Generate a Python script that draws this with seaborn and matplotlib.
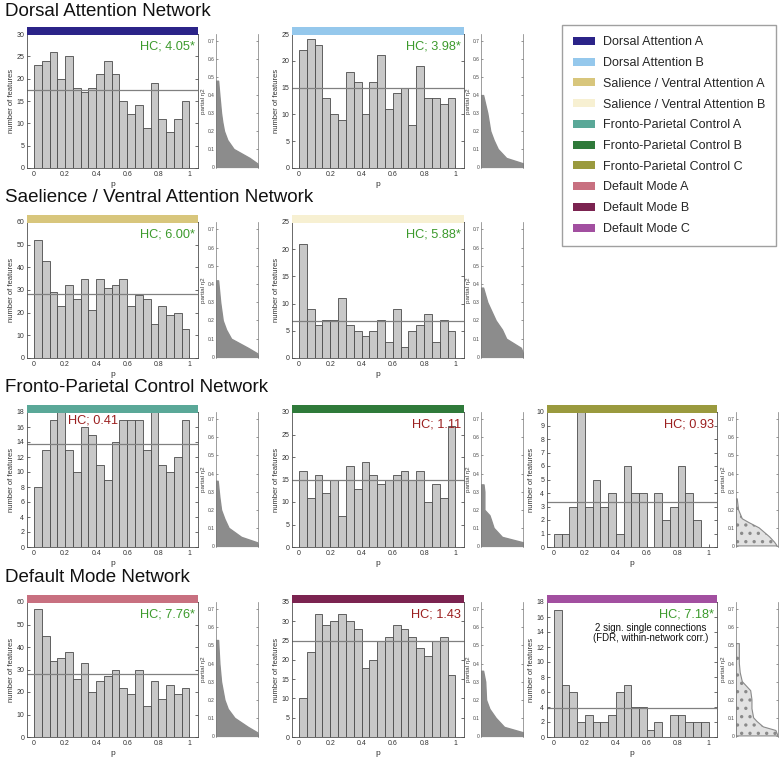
import numpy as np
import pandas as pd
import matplotlib
matplotlib.use("Agg")
import matplotlib.pyplot as plt
import seaborn as sns
from matplotlib.patches import Patch, Rectangle

# ---------------- data ----------------
networks = ["Dorsal Attention A", "Dorsal Attention B",
            "Salience / Ventral Attention A", "Salience / Ventral Attention B",
            "Fronto-Parietal Control A", "Fronto-Parietal Control B", "Fronto-Parietal Control C",
            "Default Mode A", "Default Mode B", "Default Mode C"]
net_colors = ["#2b2388", "#95c8ec", "#d8c67c", "#f7f0d2", "#5aa898",
              "#2f7a3a", "#9a9a3e", "#c87080", "#7b2350", "#a24fa0"]
row_titles = ["Dorsal Attention Network", "Saelience / Ventral Attention Network",
              "Fronto-Parietal Control Network", "Default Mode Network"]

counts_dorsal_a = [23, 24, 26, 20, 25, 18, 17, 18, 21, 24, 21, 15, 12, 14, 9, 19, 11, 8, 11, 15]
counts_dorsal_b = [22, 24, 23, 13, 10, 9, 18, 16, 10, 16, 21, 11, 14, 15, 8, 19, 13, 13, 12, 13]
counts_sal_a = [52, 43, 29, 23, 32, 26, 35, 21, 35, 31, 32, 35, 23, 28, 26, 15, 23, 19, 20, 13]
counts_sal_b = [21, 9, 6, 7, 7, 11, 6, 5, 4, 5, 7, 3, 9, 2, 5, 6, 8, 3, 7, 5]
counts_fpc_a = [8, 13, 17, 18, 13, 10, 16, 15, 11, 9, 14, 17, 17, 17, 13, 18, 11, 10, 12, 17]
counts_fpc_b = [17, 11, 16, 12, 15, 7, 18, 13, 19, 16, 14, 15, 16, 17, 15, 17, 10, 14, 11, 27]
counts_fpc_c = [1, 1, 3, 10, 3, 5, 3, 4, 1, 6, 4, 4, 0, 4, 2, 3, 6, 4, 2, 0]
counts_dm_a = [57, 45, 34, 35, 38, 26, 33, 20, 25, 27, 30, 22, 19, 30, 14, 25, 17, 23, 19, 22]
counts_dm_b = [10, 22, 32, 29, 30, 32, 30, 28, 18, 20, 25, 26, 29, 28, 26, 23, 21, 25, 26, 16]
counts_dm_c = [17, 7, 6, 2, 3, 2, 2, 3, 6, 7, 4, 4, 1, 2, 0, 3, 3, 2, 2, 2]

hc_scores = [4.05, 3.98, 6.00, 5.88, 0.41, 1.11, 0.93, 7.76, 1.43, 7.18]
hc_significant = [True, True, True, True, False, False, False, True, False, True]
y_max = [30, 25, 60, 25, 18, 30, 10, 60, 35, 18]
y_step = [5, 5, 10, 5, 2, 5, 1, 10, 5, 2]
x_ticks = [0, 0.2, 0.4, 0.6, 0.8, 1]
x_tick_labels = ["0", "0.2", "0.4", "0.6", "0.8", "1"]
eta_ticks = [0, 0.1, 0.2, 0.3, 0.4, 0.5, 0.6, 0.7]
eta_tick_labels = ["0", "0.1", "0.2", "0.3", "0.4", "0.5", "0.6", "0.7"]

# partial eta^2 distribution outlines (eta level, relative spread)
eta_dorsal_a = [0, 0.02, 0.05, 0.1, 0.15, 0.2, 0.25, 0.3, 0.4, 0.48]
spread_dorsal_a = [1.0, 0.98, 0.8, 0.42, 0.27, 0.19, 0.15, 0.12, 0.08, 0.05]
eta_dorsal_b = [0, 0.02, 0.05, 0.1, 0.15, 0.2, 0.3, 0.35, 0.4]
spread_dorsal_b = [1.0, 1.0, 0.6, 0.4, 0.3, 0.22, 0.15, 0.1, 0.05]
eta_sal_a = [0, 0.02, 0.05, 0.1, 0.15, 0.2, 0.3, 0.42]
spread_sal_a = [1.0, 0.98, 0.76, 0.36, 0.24, 0.16, 0.1, 0.05]
eta_sal_b = [0, 0.02, 0.05, 0.1, 0.15, 0.2, 0.25, 0.3, 0.38]
spread_sal_b = [1.0, 1.0, 0.95, 0.6, 0.5, 0.35, 0.25, 0.15, 0.05]
eta_fpc_a = [0, 0.02, 0.05, 0.1, 0.15, 0.2, 0.27, 0.36]
spread_fpc_a = [1.0, 0.98, 0.6, 0.3, 0.2, 0.12, 0.08, 0.04]
eta_fpc_b = [0, 0.02, 0.05, 0.1, 0.15, 0.17, 0.2, 0.3, 0.34]
spread_fpc_b = [1.0, 1.0, 0.5, 0.3, 0.23, 0.2, 0.08, 0.08, 0.06]
eta_fpc_c = [0, 0.02, 0.05, 0.1, 0.13, 0.15, 0.2, 0.26]
spread_fpc_c = [0.98, 0.92, 0.8, 0.55, 0.3, 0.15, 0.06, 0.03]
eta_dm_a = [0, 0.02, 0.05, 0.1, 0.15, 0.2, 0.3, 0.4, 0.53]
spread_dm_a = [1.0, 0.98, 0.76, 0.44, 0.28, 0.2, 0.12, 0.08, 0.05]
eta_dm_b = [0, 0.02, 0.05, 0.1, 0.15, 0.2, 0.3, 0.36]
spread_dm_b = [1.0, 1.0, 0.55, 0.35, 0.2, 0.12, 0.1, 0.05]
eta_dm_c = [0, 0.03, 0.05, 0.08, 0.1, 0.15, 0.2, 0.25, 0.28, 0.3, 0.35, 0.4, 0.51]
spread_dm_c = [1.0, 0.95, 0.65, 0.5, 0.42, 0.38, 0.38, 0.35, 0.23, 0.15, 0.1, 0.08, 0.08]

all_counts = [counts_dorsal_a, counts_dorsal_b, counts_sal_a, counts_sal_b, counts_fpc_a,
              counts_fpc_b, counts_fpc_c, counts_dm_a, counts_dm_b, counts_dm_c]
all_eta = [eta_dorsal_a, eta_dorsal_b, eta_sal_a, eta_sal_b, eta_fpc_a,
           eta_fpc_b, eta_fpc_c, eta_dm_a, eta_dm_b, eta_dm_c]
all_spread = [spread_dorsal_a, spread_dorsal_b, spread_sal_a, spread_sal_b, spread_fpc_a,
              spread_fpc_b, spread_fpc_c, spread_dm_a, spread_dm_b, spread_dm_c]

# ---------------- layout ----------------
sns.set_theme(style="white")
plt.rcParams['font.family'] = ['Liberation Sans', 'DejaVu Sans']
plt.rcParams['hatch.linewidth'] = 1.2

W, H = 784, 758
fig = plt.figure(figsize=(W / 100, H / 100), dpi=100)


def frect(x0, y0, x1, y1):
    return [x0 / W, 1 - y1 / H, (x1 - x0) / W, (y1 - y0) / H]


col_x = [(27, 198), (292, 464), (547, 717)]
side_x = [(216, 258), (481, 523), (736, 778)]
row_y = [(34, 168), (222, 358), (412, 547), (602, 737)]
title_y = [12, 198, 387, 577]
panel_pos = [(0, 0), (0, 1), (1, 0), (1, 1), (2, 0), (2, 1), (2, 2), (3, 0), (3, 1), (3, 2)]

n_bins = 20
centers = (np.arange(n_bins) + 0.5) / n_bins
green = "#3c9a2c"
darkred = "#9b1f1f"
spine_c = "#505050"

for r, t in enumerate(row_titles):
    fig.text(5 / W, 1 - title_y[r] / H, t, fontsize=13.5, ha="left", va="center", color="#111111")

for i, (r, c) in enumerate(panel_pos):
    x0, x1 = col_x[c]
    y0, y1 = row_y[r]
    ax = fig.add_axes(frect(x0, y0, x1, y1))
    counts = all_counts[i]
    df = pd.DataFrame({"p": centers, "n": np.asarray(counts, dtype=float)})
    sns.histplot(data=df, x="p", weights="n", bins=n_bins, binrange=(0, 1), ax=ax,
                 color="#c8c8c8", edgecolor="#4a4a4a", linewidth=0.6, alpha=1)
    for p in ax.patches:
        p.set_facecolor("#c8c8c8")
    mean_val = sum(counts) / len(counts)
    ax.axhline(mean_val, color="#808080", lw=0.9)
    ax.set_xlim(-0.045, 1.055)
    ax.set_ylim(0, y_max[i])
    ax.set_yticks(np.arange(0, y_max[i] + 0.01, y_step[i]))
    ax.set_xticks(x_ticks)
    ax.set_xticklabels(x_tick_labels)
    ax.tick_params(labelsize=5, length=2, width=0.5, direction="in", pad=2,
                   colors="#333333", right=True, left=True, bottom=True)
    ax.set_ylabel("number of features", fontsize=5.5, labelpad=1, color="#333333")
    ax.set_xlabel("p", fontsize=6, labelpad=2, color="#333333")
    for s in ax.spines.values():
        s.set_color(spine_c)
        s.set_linewidth(0.6)
    # network colour band
    band_h = 8 / (y1 - y0)
    ax.add_patch(Rectangle((0, 1 - 1 / (y1 - y0)), 1, band_h, transform=ax.transAxes,
                           facecolor=net_colors[i], edgecolor="none", clip_on=False, zorder=5))
    # HC label
    txt = f"HC; {hc_scores[i]:.2f}" + ("*" if hc_significant[i] else "")
    col = green if hc_significant[i] else darkred
    if i == 4:
        ax.text(0.24, 0.985, txt, transform=ax.transAxes, ha="left", va="top",
                fontsize=9.2, color=col)
    else:
        ax.text(0.983, 0.95, txt, transform=ax.transAxes, ha="right", va="top",
                fontsize=9.2, color=col)
    if i == 9:
        ax.text(0.61, 0.77, "2 sign. single connections\n(FDR, within-network corr.)",
                transform=ax.transAxes, ha="center", va="center", fontsize=7,
                color="#111111", linespacing=1.1)

    # side panel: partial eta^2
    sx0, sx1 = side_x[c]
    ax2 = fig.add_axes(frect(sx0, y0, sx1, y1))
    eta = all_eta[i]
    spread = all_spread[i]
    if i in (6, 9):
        ax2.fill_betweenx(eta, 0, spread, facecolor="#e2e2e2", edgecolor="#8a8a8a",
                          linewidth=0.8, hatch="..")
    else:
        ax2.fill_betweenx(eta, 0, spread, facecolor="#8c8c8c", edgecolor="#8c8c8c",
                          linewidth=1.0)
    ax2.set_xlim(0, 1)
    ax2.set_ylim(-0.006, 0.74)
    ax2.set_xticks([])
    ax2.set_yticks(eta_ticks)
    ax2.set_yticklabels(eta_tick_labels)
    ax2.tick_params(axis="y", labelsize=3.5, length=1.5, width=0.4, direction="in",
                    pad=1, colors="#444444", right=True, left=True)
    ax2.set_ylabel("partial η2", fontsize=4.5, labelpad=1, color="#444444")
    ax2.set_xlabel("")
    ax2.spines["top"].set_visible(False)
    ax2.spines["bottom"].set_visible(False)
    for s in ("left", "right"):
        ax2.spines[s].set_color("#777777")
        ax2.spines[s].set_linewidth(0.5)
    ax2.patch.set_alpha(0)

# legend
handles = [Patch(facecolor=cc, edgecolor="none", label=n) for n, cc in zip(networks, net_colors)]
leg = fig.legend(handles=handles, loc="upper left", bbox_to_anchor=(562 / W, 1 - 25 / H),
                 bbox_transform=fig.transFigure, fontsize=9, frameon=True, fancybox=False,
                 borderaxespad=0, borderpad=0.9, labelspacing=0.7, handlelength=1.7,
                 handleheight=0.6, handletextpad=0.65)
leg.get_frame().set_edgecolor("#888888")
leg.get_frame().set_linewidth(1.0)

fig.savefig("out.png", dpi=100, facecolor="white")
